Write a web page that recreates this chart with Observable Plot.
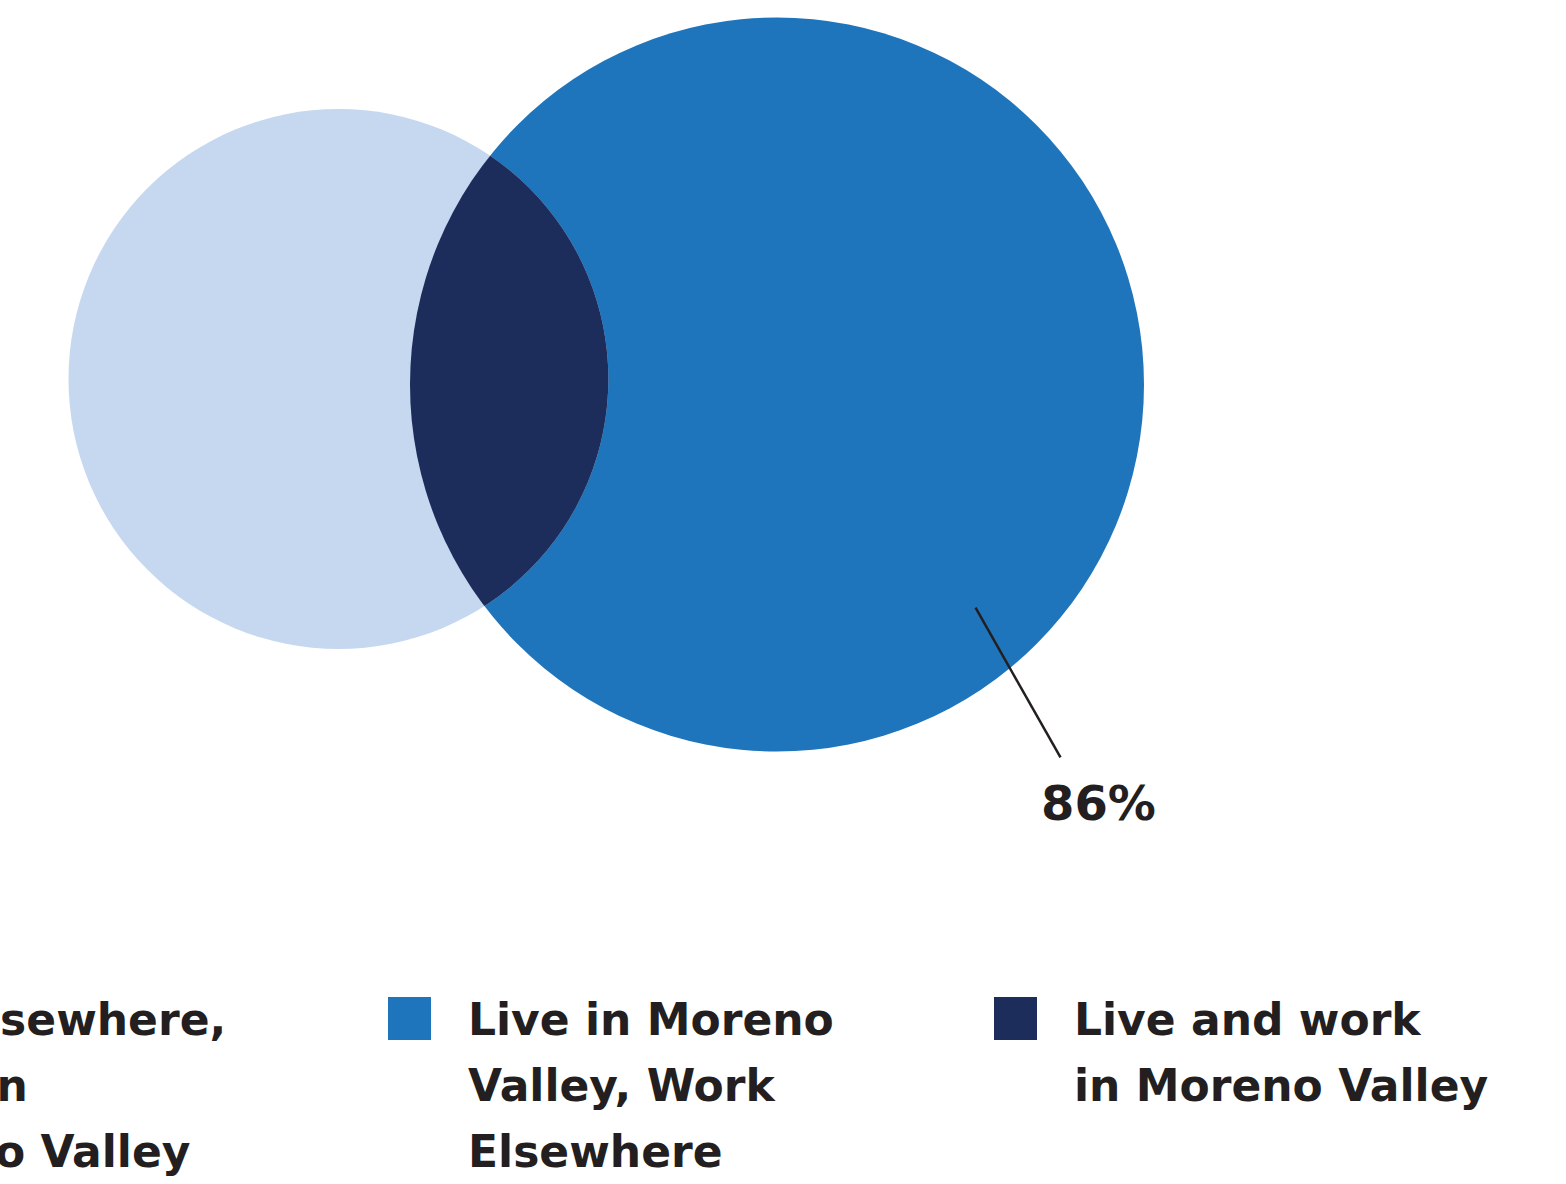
<!DOCTYPE html>
<html>
<head>
<meta charset="utf-8">
<script src="https://cdn.jsdelivr.net/npm/d3@7"></script>
<script src="https://cdn.jsdelivr.net/npm/@observablehq/plot@0.6"></script>
<style>
  html, body { margin: 0; padding: 0; background: #fff; overflow: hidden; }
  #wrap { position: relative; width: 1566px; height: 1184px; }
  #chart svg { display: block; }
  .legend { position: absolute; top: 987px; left: 0; width: 1566px; height: 200px;
    font-family: "DejaVu Sans", sans-serif; font-weight: bold; font-size: 44px;
    line-height: 66px; color: #231f20; }
  .item { position: absolute; top: 0; }
  .sw { position: absolute; top: 10px; left: 0; width: 43px; height: 43px; }
  .lab { position: absolute; top: 0; left: 80px; white-space: nowrap; }
</style>
</head>
<body>
<div id="wrap">
  <div id="chart"></div>
  <div class="legend" id="legend"></div>
</div>
<script>
// ---- data ----
const categories = [
  "Live Elsewhere, Work in Moreno Valley",
  "Live in Moreno Valley, Work Elsewhere",
  "Live and work in Moreno Valley"
];
const legendLines = [
  ["Live Elsewhere,", "Work in", "Moreno Valley"],
  ["Live in Moreno", "Valley, Work", "Elsewhere"],
  ["Live and work", "in Moreno Valley"]
];
// relative circle sizes (area), largest = 1
const circleSizes = [0.541, 1.0];
const labelText = ["86%"];
const colors = ["#c6d8ef", "#1f75bc", "#1c2d5c"];

// ---- layout (Venn centers, in units of the large circle's radius) ----
const centersX = [-1.195, 0];
const centersY = [0.015, 0];
const W = 1566, H = 880, R = 367;
const cxPix = 776.5, cyPix = 384;

const circles = circleSizes.map((s, i) => ({
  name: categories[i], size: s, x: centersX[i], y: centersY[i], color: colors[i]
}));
const leader = [{x1: 0.541, y1: -0.608, x2: 0.7725, y2: -1.016}];
const labels = [{x: 0.876, y: -1.144, text: labelText[0]}];

const chart = Plot.plot({
  width: W, height: H,
  margin: 0,
  x: {domain: [-cxPix / R, (W - cxPix) / R], axis: null},
  y: {domain: [-(H - cyPix) / R, cyPix / R], axis: null},
  r: {type: "sqrt", domain: [0, 1], range: [0, R]},
  marks: [
    Plot.dot(circles, {x: "x", y: "y", r: "size", fill: "color", stroke: null}),
    // intersection: small circle clipped by the large circle
    Plot.dot([circles[0]], {
      x: "x", y: "y", r: "size", fill: colors[2],
      render(index, scales, values, dimensions, context, next) {
        const g = next(index, scales, values, dimensions, context);
        const ns = "http://www.w3.org/2000/svg";
        const doc = context.document || document;
        const cp = doc.createElementNS(ns, "clipPath");
        cp.setAttribute("id", "clip-big");
        const c = doc.createElementNS(ns, "circle");
        const big = circles[1];
        c.setAttribute("cx", scales.x(big.x));
        c.setAttribute("cy", scales.y(big.y));
        c.setAttribute("r", scales.r(big.size));
        cp.appendChild(c);
        g.insertBefore(cp, g.firstChild);
        g.setAttribute("clip-path", "url(#clip-big)");
        return g;
      }
    }),
    Plot.link(leader, {x1: "x1", y1: "y1", x2: "x2", y2: "y2", stroke: "#231f20", strokeWidth: 2.5}),
    Plot.text(labels, {x: "x", y: "y", text: "text", fontSize: 48, fontWeight: "bold",
      fill: "#231f20", fontFamily: "DejaVu Sans", textAnchor: "middle"})
  ]
});
document.getElementById("chart").appendChild(chart);

// ---- legend ----
const itemLeft = [-242, 388, 994];
const legend = document.getElementById("legend");
categories.forEach((cat, i) => {
  const it = document.createElement("div");
  it.className = "item";
  it.style.left = itemLeft[i] + "px";
  const sw = document.createElement("div");
  sw.className = "sw";
  sw.style.background = colors[i];
  const lab = document.createElement("div");
  lab.className = "lab";
  lab.innerHTML = legendLines[i].join("<br>");
  it.appendChild(sw); it.appendChild(lab);
  legend.appendChild(it);
});
</script>
</body>
</html>
